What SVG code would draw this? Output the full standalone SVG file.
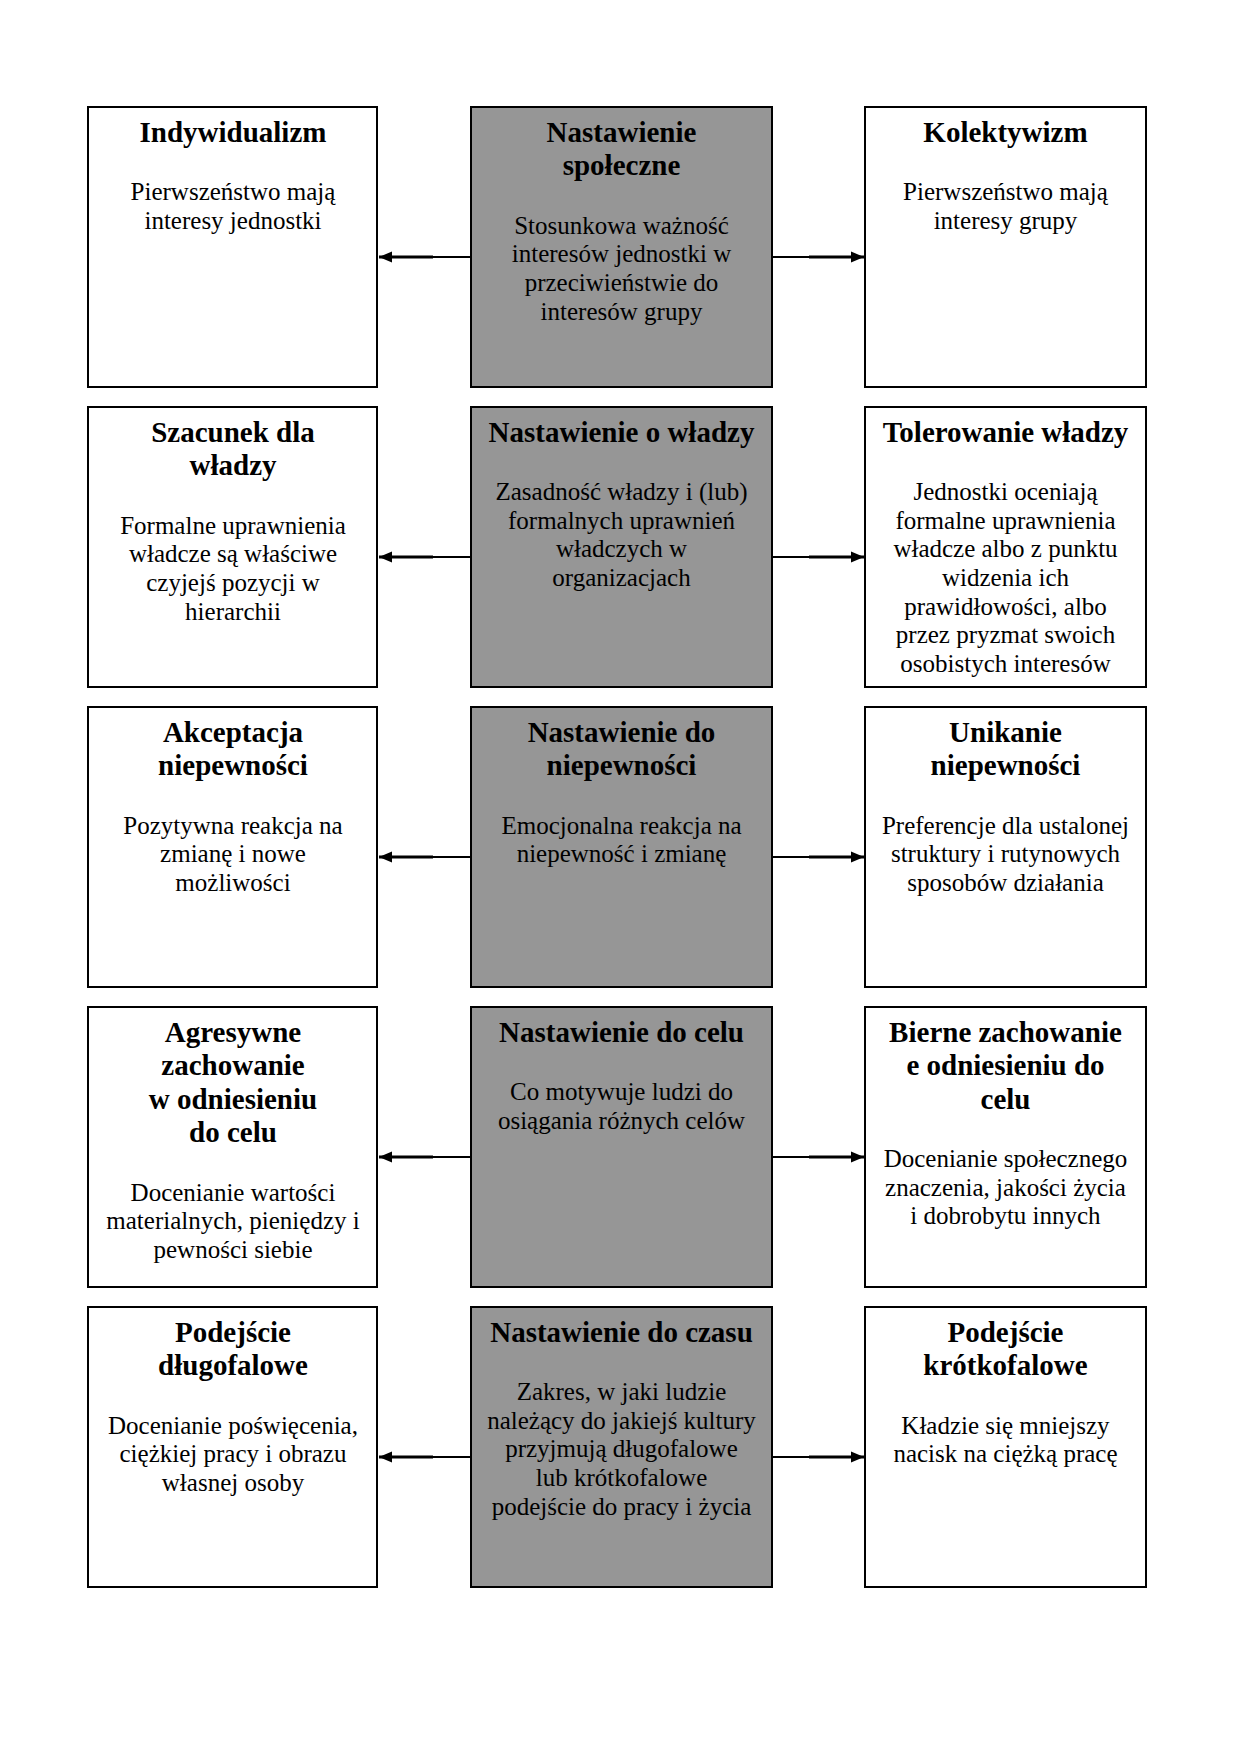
<svg xmlns="http://www.w3.org/2000/svg" width="1240" height="1754" viewBox="0 0 1240 1754">
<defs>
<style>
.box{fill:#ffffff;stroke:#000000;stroke-width:2}
.mid{fill:#969696;stroke:#000000;stroke-width:2}
.t{font-family:"Liberation Serif","Times New Roman",serif;font-size:29px;font-weight:bold;text-anchor:middle;fill:#000000}
.b{font-family:"Liberation Serif","Times New Roman",serif;font-size:25px;text-anchor:middle;fill:#000000}
.thin{stroke:#000000;stroke-width:2;fill:none}
.thick{stroke:#000000;stroke-width:3;fill:none}
</style>
<marker id="ah" markerUnits="userSpaceOnUse" markerWidth="14" markerHeight="12" refX="13" refY="6" orient="auto">
<path d="M0,0.5 L13,6 L0,11.5 z" fill="#000000"/>
</marker>
</defs>
<rect width="1240" height="1754" fill="#ffffff"/>

<g id="connectors">
<line class="thin" x1="471" y1="257" x2="432" y2="257"/><line class="thick" x1="433" y1="257" x2="379" y2="257" marker-end="url(#ah)"/>
<line class="thin" x1="772" y1="257" x2="810" y2="257"/><line class="thick" x1="809" y1="257" x2="864" y2="257" marker-end="url(#ah)"/>
<line class="thin" x1="471" y1="557" x2="432" y2="557"/><line class="thick" x1="433" y1="557" x2="379" y2="557" marker-end="url(#ah)"/>
<line class="thin" x1="772" y1="557" x2="810" y2="557"/><line class="thick" x1="809" y1="557" x2="864" y2="557" marker-end="url(#ah)"/>
<line class="thin" x1="471" y1="857" x2="432" y2="857"/><line class="thick" x1="433" y1="857" x2="379" y2="857" marker-end="url(#ah)"/>
<line class="thin" x1="772" y1="857" x2="810" y2="857"/><line class="thick" x1="809" y1="857" x2="864" y2="857" marker-end="url(#ah)"/>
<line class="thin" x1="471" y1="1157" x2="432" y2="1157"/><line class="thick" x1="433" y1="1157" x2="379" y2="1157" marker-end="url(#ah)"/>
<line class="thin" x1="772" y1="1157" x2="810" y2="1157"/><line class="thick" x1="809" y1="1157" x2="864" y2="1157" marker-end="url(#ah)"/>
<line class="thin" x1="471" y1="1457" x2="432" y2="1457"/><line class="thick" x1="433" y1="1457" x2="379" y2="1457" marker-end="url(#ah)"/>
<line class="thin" x1="772" y1="1457" x2="810" y2="1457"/><line class="thick" x1="809" y1="1457" x2="864" y2="1457" marker-end="url(#ah)"/>
</g>

<!-- Row 1 -->
<g id="indywidualizm">
<rect class="box" x="88" y="107" width="289" height="280"/>
<text class="t"><tspan x="233" y="142">Indywidualizm</tspan></text>
<text class="b"><tspan x="233" y="200">Pierwszeństwo mają</tspan><tspan x="233" y="228.7">interesy jednostki</tspan></text>
</g>
<g id="nastawienie-spoleczne">
<rect class="mid" x="471" y="107" width="301" height="280"/>
<text class="t"><tspan x="621.5" y="142">Nastawienie</tspan><tspan x="621.5" y="175">społeczne</tspan></text>
<text class="b"><tspan x="621.5" y="233.5">Stosunkowa ważność</tspan><tspan x="621.5" y="262.2">interesów jednostki w</tspan><tspan x="621.5" y="290.8">przeciwieństwie do</tspan><tspan x="621.5" y="319.5">interesów grupy</tspan></text>
</g>
<g id="kolektywizm">
<rect class="box" x="865" y="107" width="281" height="280"/>
<text class="t"><tspan x="1005.5" y="142">Kolektywizm</tspan></text>
<text class="b"><tspan x="1005.5" y="200">Pierwszeństwo mają</tspan><tspan x="1005.5" y="228.7">interesy grupy</tspan></text>
</g>

<!-- Row 2 -->
<g id="szacunek-dla-wladzy">
<rect class="box" x="88" y="407" width="289" height="280"/>
<text class="t"><tspan x="233" y="442">Szacunek dla</tspan><tspan x="233" y="475">władzy</tspan></text>
<text class="b"><tspan x="233" y="533.5">Formalne uprawnienia</tspan><tspan x="233" y="562.2">władcze są właściwe</tspan><tspan x="233" y="590.8">czyjejś pozycji w</tspan><tspan x="233" y="619.5">hierarchii</tspan></text>
</g>
<g id="nastawienie-o-wladzy">
<rect class="mid" x="471" y="407" width="301" height="280"/>
<text class="t"><tspan x="621.5" y="442">Nastawienie o władzy</tspan></text>
<text class="b"><tspan x="621.5" y="500">Zasadność władzy i (lub)</tspan><tspan x="621.5" y="528.7">formalnych uprawnień</tspan><tspan x="621.5" y="557.3">władczych w</tspan><tspan x="621.5" y="586">organizacjach</tspan></text>
</g>
<g id="tolerowanie-wladzy">
<rect class="box" x="865" y="407" width="281" height="280"/>
<text class="t"><tspan x="1005.5" y="442">Tolerowanie władzy</tspan></text>
<text class="b"><tspan x="1005.5" y="500">Jednostki oceniają</tspan><tspan x="1005.5" y="528.7">formalne uprawnienia</tspan><tspan x="1005.5" y="557.3">władcze albo z punktu</tspan><tspan x="1005.5" y="586">widzenia ich</tspan><tspan x="1005.5" y="614.7">prawidłowości, albo</tspan><tspan x="1005.5" y="643.3">przez pryzmat swoich</tspan><tspan x="1005.5" y="672">osobistych interesów</tspan></text>
</g>

<!-- Row 3 -->
<g id="akceptacja-niepewnosci">
<rect class="box" x="88" y="707" width="289" height="280"/>
<text class="t"><tspan x="233" y="742">Akceptacja</tspan><tspan x="233" y="775">niepewności</tspan></text>
<text class="b"><tspan x="233" y="833.5">Pozytywna reakcja na</tspan><tspan x="233" y="862.2">zmianę i nowe</tspan><tspan x="233" y="890.8">możliwości</tspan></text>
</g>
<g id="nastawienie-do-niepewnosci">
<rect class="mid" x="471" y="707" width="301" height="280"/>
<text class="t"><tspan x="621.5" y="742">Nastawienie do</tspan><tspan x="621.5" y="775">niepewności</tspan></text>
<text class="b"><tspan x="621.5" y="833.5">Emocjonalna reakcja na</tspan><tspan x="621.5" y="862.2">niepewność i zmianę</tspan></text>
</g>
<g id="unikanie-niepewnosci">
<rect class="box" x="865" y="707" width="281" height="280"/>
<text class="t"><tspan x="1005.5" y="742">Unikanie</tspan><tspan x="1005.5" y="775">niepewności</tspan></text>
<text class="b"><tspan x="1005.5" y="833.5">Preferencje dla ustalonej</tspan><tspan x="1005.5" y="862.2">struktury i rutynowych</tspan><tspan x="1005.5" y="890.8">sposobów działania</tspan></text>
</g>

<!-- Row 4 -->
<g id="agresywne-zachowanie">
<rect class="box" x="88" y="1007" width="289" height="280"/>
<text class="t"><tspan x="233" y="1042">Agresywne</tspan><tspan x="233" y="1075.3">zachowanie</tspan><tspan x="233" y="1108.6">w odniesieniu</tspan><tspan x="233" y="1142">do celu</tspan></text>
<text class="b"><tspan x="233" y="1200.5">Docenianie wartości</tspan><tspan x="233" y="1229.2">materialnych, pieniędzy i</tspan><tspan x="233" y="1257.8">pewności siebie</tspan></text>
</g>
<g id="nastawienie-do-celu">
<rect class="mid" x="471" y="1007" width="301" height="280"/>
<text class="t"><tspan x="621.5" y="1042">Nastawienie do celu</tspan></text>
<text class="b"><tspan x="621.5" y="1100">Co motywuje ludzi do</tspan><tspan x="621.5" y="1128.7">osiągania różnych celów</tspan></text>
</g>
<g id="bierne-zachowanie">
<rect class="box" x="865" y="1007" width="281" height="280"/>
<text class="t"><tspan x="1005.5" y="1042">Bierne zachowanie</tspan><tspan x="1005.5" y="1075.3">e odniesieniu do</tspan><tspan x="1005.5" y="1108.6">celu</tspan></text>
<text class="b"><tspan x="1005.5" y="1167">Docenianie społecznego</tspan><tspan x="1005.5" y="1195.7">znaczenia, jakości życia</tspan><tspan x="1005.5" y="1224.3">i dobrobytu innych</tspan></text>
</g>

<!-- Row 5 -->
<g id="podejscie-dlugofalowe">
<rect class="box" x="88" y="1307" width="289" height="280"/>
<text class="t"><tspan x="233" y="1342">Podejście</tspan><tspan x="233" y="1375">długofalowe</tspan></text>
<text class="b"><tspan x="233" y="1433.5">Docenianie poświęcenia,</tspan><tspan x="233" y="1462.2">ciężkiej pracy i obrazu</tspan><tspan x="233" y="1490.8">własnej osoby</tspan></text>
</g>
<g id="nastawienie-do-czasu">
<rect class="mid" x="471" y="1307" width="301" height="280"/>
<text class="t"><tspan x="621.5" y="1342">Nastawienie do czasu</tspan></text>
<text class="b"><tspan x="621.5" y="1400">Zakres, w jaki ludzie</tspan><tspan x="621.5" y="1428.7">należący do jakiejś kultury</tspan><tspan x="621.5" y="1457.3">przyjmują długofalowe</tspan><tspan x="621.5" y="1486">lub krótkofalowe</tspan><tspan x="621.5" y="1514.7">podejście do pracy i życia</tspan></text>
</g>
<g id="podejscie-krotkofalowe">
<rect class="box" x="865" y="1307" width="281" height="280"/>
<text class="t"><tspan x="1005.5" y="1342">Podejście</tspan><tspan x="1005.5" y="1375">krótkofalowe</tspan></text>
<text class="b"><tspan x="1005.5" y="1433.5">Kładzie się mniejszy</tspan><tspan x="1005.5" y="1462.2">nacisk na ciężką pracę</tspan></text>
</g>
</svg>
